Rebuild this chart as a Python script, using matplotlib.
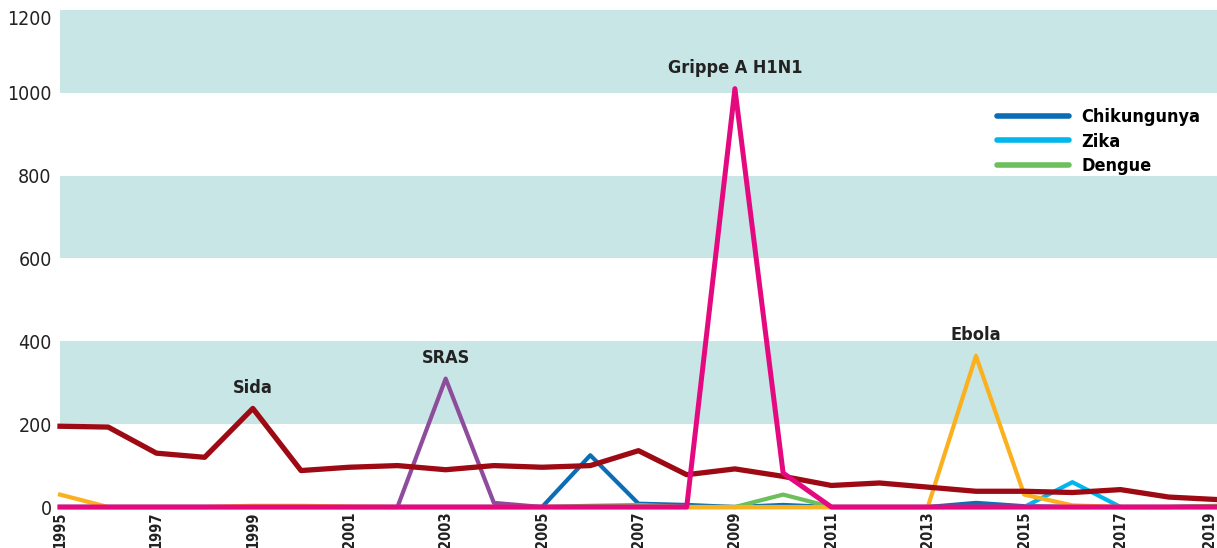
import numpy as np
import matplotlib.pyplot as plt
from matplotlib import font_manager as fm

years = list(range(1995, 2020))

sida = [195, 193, 130, 120, 238, 88, 96, 100, 90, 100, 96, 100, 136, 78, 92, 74,
        52, 58, 48, 38, 38, 35, 42, 24, 18]
sras = [0, 0, 0, 0, 0, 0, 0, 0, 310, 10, 0, 0, 0, 0, 0, 0,
        0, 0, 0, 0, 0, 0, 0, 0, 0]
h1n1 = [0] * 14 + [1010, 82] + [0] * 9
ebola = [30, 0, 0, 0, 3, 3, 1, 0, 0, 0, 0, 0, 0, 0, 0, 0,
         0, 0, 0, 365, 30, 4, 0, 0, 0]
chik = [0, 0, 0, 0, 0, 0, 0, 0, 0, 0, 0, 125, 8, 5, 0, 5,
        0, 0, 0, 10, 2, 0, 0, 0, 2]
zika = [0] * 21 + [60, 0, 0, 0]
dengue = [0, 0, 0, 0, 0, 0, 0, 0, 0, 0, 0, 3, 5, 0, 0, 30,
          0, 0, 0, 0, 0, 0, 0, 0, 3]

bands = [(200, 400), (600, 800), (1000, 1200)]
yticks = [0, 200, 400, 600, 800, 1000, 1200]
xticks = list(range(1995, 2020, 2))

# look for a narrow / condensed face, the original uses a condensed grotesque
def find_face(keys):
    for k in keys:
        for f in fm.fontManager.ttflist:
            if f.fname.endswith(k):
                return f.fname
    return None

reg_file = find_face(['LiberationSansNarrow-Regular.ttf', 'DejaVuSansCondensed.ttf'])
bold_file = find_face(['LiberationSansNarrow-Bold.ttf', 'DejaVuSansCondensed-Bold.ttf'])
narrow = reg_file is not None and bold_file is not None
shrink = 1.0 if narrow else 0.85

def fp(bold, size):
    if narrow:
        return fm.FontProperties(fname=bold_file if bold else reg_file, size=size)
    return fm.FontProperties(family='DejaVu Sans', weight='bold' if bold else 'normal',
                             size=size * shrink)

fig = plt.figure(figsize=(12.17, 5.48), dpi=100)
ax = fig.add_axes([0.0493, 0.0748, 0.9507, 0.907])

for lo, hi in bands:
    ax.axhspan(lo, hi, color='#c8e6e6', lw=0, zorder=0)

ax.plot(years, sras, color='#8e4c9c', lw=3.0, zorder=2, clip_on=False)
ax.plot(years, chik, color='#0a6db5', lw=3.0, zorder=3, clip_on=False, label='Chikungunya')
ax.plot(years, zika, color='#00b6ec', lw=3.0, zorder=3, clip_on=False, label='Zika')
ax.plot(years, dengue, color='#6cbf5a', lw=3.0, zorder=3, clip_on=False, label='Dengue')
ax.plot(years, ebola, color='#fbb01e', lw=3.0, zorder=3, clip_on=False)
ax.plot(years, sida, color='#9e0a14', lw=3.8, zorder=4, clip_on=False)
ax.plot(years, h1n1, color='#e5097f', lw=3.6, zorder=5, clip_on=False)

# labels above the peaks
for name, s in [('Sida', sida), ('SRAS', sras), ('Grippe A H1N1', h1n1), ('Ebola', ebola)]:
    i = int(np.argmax(s))
    ax.annotate(name, xy=(years[i], s[i]), xytext=(0, 15), textcoords='offset points',
                ha='center', va='center', fontproperties=fp(True, 13), color='#222222')

ax.set_xlim(1995, 2019)
ax.set_ylim(0, 1200)
ax.set_yticks(yticks)
ax.set_yticklabels([str(v) for v in yticks], fontproperties=fp(False, 14), color='#222222')
ax.get_yticklabels()[-1].set_va('top')
ax.set_xticks(xticks)
ax.set_xticklabels([str(y) for y in xticks], rotation=90, fontproperties=fp(True, 10.5),
                   color='#222222')
ax.get_xticklabels()[-1].set_ha('right')
ax.tick_params(axis='y', length=0, pad=6)
ax.tick_params(axis='x', length=0, pad=3)
for sp in ax.spines.values():
    sp.set_visible(False)

leg = ax.legend(loc='upper right', bbox_to_anchor=(1.0, 0.835), frameon=False,
                handlelength=4.0, handletextpad=0.7, labelspacing=0.35,
                prop=fp(True, 13))
for line in leg.get_lines():
    line.set_linewidth(4)
    line.set_solid_capstyle('round')

fig.savefig('out.png', dpi=100)
